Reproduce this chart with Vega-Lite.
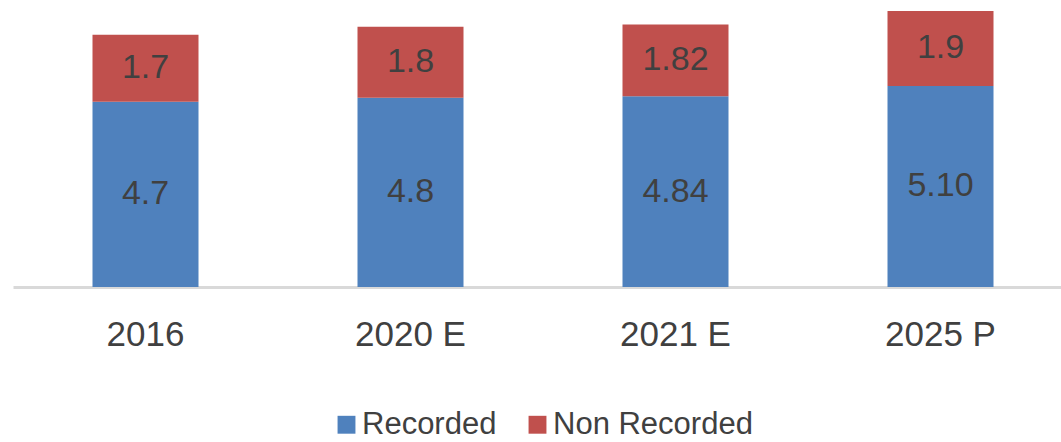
{
  "$schema": "https://vega.github.io/schema/vega-lite/v6.json",
  "width": 1060,
  "height": 276,
  "autosize": {"type": "none"},
  "padding": {"left": 13, "top": 11, "right": 0, "bottom": 155},
  "background": "white",
  "config": {
    "view": {"stroke": null},
    "font": "Liberation Sans, Arial, sans-serif"
  },
  "data": {
    "values": [
      {"year": "2016", "series": "Recorded", "value": 4.7, "label": "4.7"},
      {"year": "2016", "series": "Non Recorded", "value": 1.7, "label": "1.7"},
      {"year": "2020 E", "series": "Recorded", "value": 4.8, "label": "4.8"},
      {"year": "2020 E", "series": "Non Recorded", "value": 1.8, "label": "1.8"},
      {"year": "2021 E", "series": "Recorded", "value": 4.84, "label": "4.84"},
      {"year": "2021 E", "series": "Non Recorded", "value": 1.82, "label": "1.82"},
      {"year": "2025 P", "series": "Recorded", "value": 5.10, "label": "5.10"},
      {"year": "2025 P", "series": "Non Recorded", "value": 1.9, "label": "1.9"}
    ]
  },
  "transform": [
    {"stack": "value", "groupby": ["year"], "sort": [{"field": "series", "order": "descending"}], "as": ["v0", "v1"]},
    {"calculate": "(datum.v0 + datum.v1) / 2", "as": "mid"}
  ],
  "encoding": {
    "x": {
      "field": "year",
      "type": "nominal",
      "sort": null,
      "scale": {"paddingInner": 0.6, "paddingOuter": 0.3},
      "axis": {
        "title": null,
        "labelAngle": 0,
        "ticks": false,
        "domainColor": "#d9d9d9",
        "domainWidth": 3,
        "labelFontSize": 35,
        "labelColor": "#404040",
        "labelPadding": 30
      }
    }
  },
  "layer": [
    {
      "mark": {"type": "bar"},
      "encoding": {
        "y": {"field": "v0", "type": "quantitative", "scale": {"domain": [0, 7], "nice": false, "zero": true}, "axis": null},
        "y2": {"field": "v1"},
        "color": {
          "field": "series",
          "type": "nominal",
          "scale": {"domain": ["Recorded", "Non Recorded"], "range": ["#4f81bd", "#c0504d"]},
          "legend": {
            "title": null,
            "orient": "none",
            "direction": "horizontal",
            "legendX": 318,
            "legendY": 398,
            "symbolType": "square",
            "symbolSize": 320,
            "symbolStrokeWidth": 0,
            "labelFontSize": 31,
            "labelColor": "#404040",
            "labelOffset": 0,
            "labelLimit": 400,
            "columnPadding": 25
          }
        }
      }
    },
    {
      "mark": {"type": "text", "fontSize": 34, "color": "#404040", "baseline": "middle", "align": "center"},
      "encoding": {
        "y": {"field": "mid", "type": "quantitative"},
        "text": {"field": "label"}
      }
    }
  ]
}
